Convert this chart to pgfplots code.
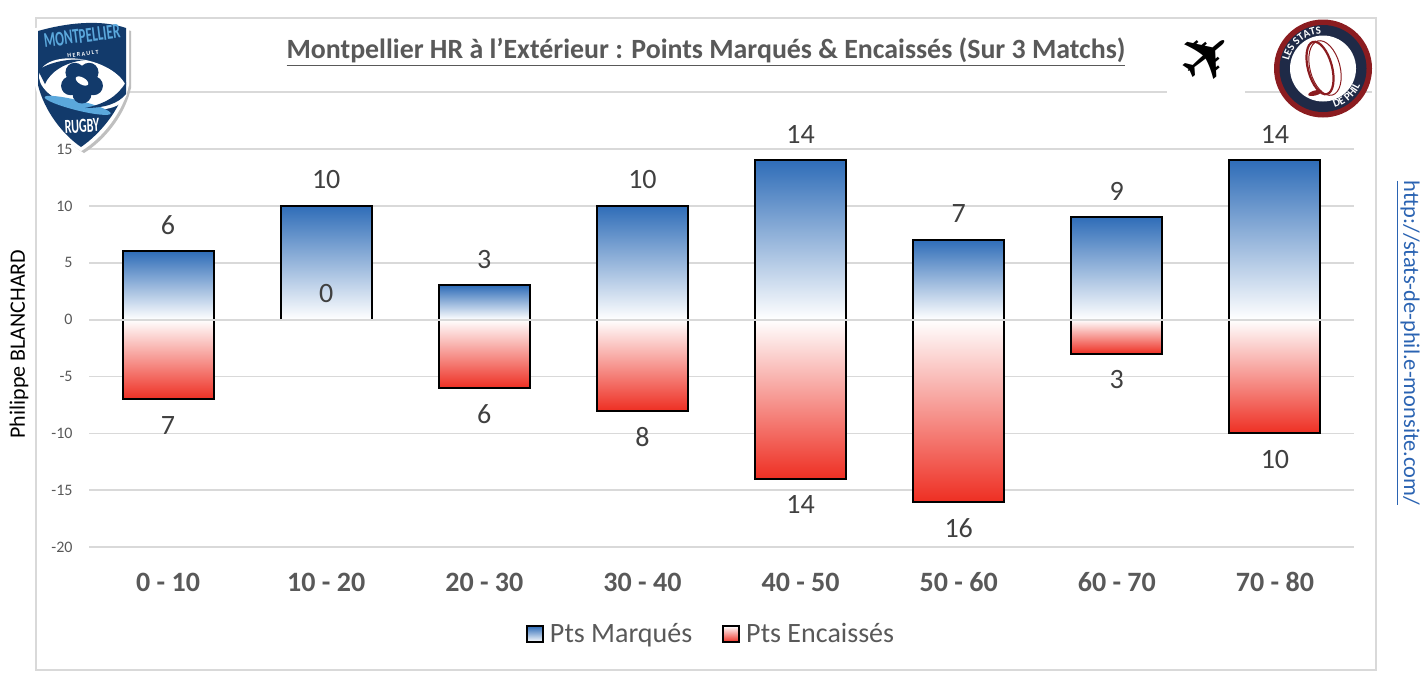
\documentclass[border=0pt]{standalone}
\usepackage{pgfplots}
\pgfplotsset{compat=1.18}
\usepackage{fontspec}
\setmainfont{Carlito}
\newfontfamily\dejavu{DejaVu Sans}
\usetikzlibrary{decorations.text}
\definecolor{gridc}{HTML}{D9D9D9}
\definecolor{txt}{HTML}{595959}
\definecolor{lab}{HTML}{404040}
\definecolor{barblue}{HTML}{2F6DB8}
\definecolor{barred}{HTML}{EE2F23}
\definecolor{navy}{HTML}{123A6B}
\definecolor{sky}{HTML}{5BA8DC}
\definecolor{ringred}{HTML}{8B1C20}
\definecolor{ringnavy}{HTML}{1F2A47}
\definecolor{urlc}{HTML}{2A63B2}
\pgfplotsset{
  posbar/.style={ybar,bar width=45.5pt,bar shift=0pt,draw=black,line width=1pt,top color=barblue,bottom color=white,
    nodes near coords,point meta=y,nodes near coords align={anchor=south}},
  negbar/.style={ybar,bar width=45.5pt,bar shift=0pt,draw=black,line width=1pt,top color=white,bottom color=barred,
    nodes near coords,point meta=explicit symbolic,nodes near coords align={anchor=north}},
}
\begin{document}
\begin{tikzpicture}
\begin{scope}[x=0.5pt,y=-0.5pt]
\path[fill=white] (0,0) rectangle (1428,692);
\draw[gridc,line width=0.9pt] (36,18) rectangle (1376,670);
\draw[gridc,line width=0.8pt] (130,92) -- (1167,92);
\draw[gridc,line width=0.8pt] (1245,92) -- (1372,92);
\end{scope}
\begin{axis}[
  at={(44.5pt,-273.5pt)},anchor=south west,
  scale only axis,width=632.5pt,height=199pt,
  xmin=-0.5,xmax=7.5,ymin=-20,ymax=15,
  axis x line*=bottom,axis y line*=left,
  x axis line style={draw=none},y axis line style={draw=none},
  major tick length=0pt,
  ytick={-20,-15,...,15},
  xtick={0,...,7},
  xticklabels={0 - 10,10 - 20,20 - 30,30 - 40,40 - 50,50 - 60,60 - 70,70 - 80},
  ymajorgrids,
  grid style={gridc,line width=0.8pt},
  /pgf/number format/assume math mode=true,
  yticklabel style={font=\fontsize{8}{10}\selectfont,text=txt,inner sep=0pt,xshift=-8pt},
  xticklabel style={font=\fontsize{14}{16}\selectfont\bfseries,text=txt,anchor=center,yshift=-17.5pt},
  legend style={at={(0.4925,-0.219)},anchor=center,draw=none,fill=none,
    legend columns=-1,font=\fontsize{14}{16}\selectfont,text=txt,
    /tikz/every even column/.style={column sep=13pt},
    /tikz/every odd column/.style={column sep=1pt},inner sep=0pt},
  legend cell align=left,
  legend image code/.code={\draw[#1,line width=1pt] (0pt,-4pt) rectangle (8pt,4pt);},
  clip=false,
  every node near coord/.append style={font=\fontsize{14}{16}\selectfont,text=lab,inner ysep=8pt,inner xsep=0pt},
]
% Pts Marqués
\addplot[posbar] coordinates {(0,6)};
\addlegendentry{Pts Marqués}
\addplot[posbar,forget plot] coordinates {(1,10)};
\addplot[posbar,forget plot] coordinates {(2,3)};
\addplot[posbar,forget plot] coordinates {(3,10)};
\addplot[posbar,forget plot] coordinates {(4,14)};
\addplot[posbar,forget plot] coordinates {(5,7)};
\addplot[posbar,forget plot] coordinates {(6,9)};
\addplot[posbar,forget plot] coordinates {(7,14)};
% Pts Encaissés (drawn below zero, labelled with the absolute value)
\addplot[negbar] coordinates {(0,-7) [7]};
\addlegendentry{Pts Encaissés}
\addplot[forget plot,draw=none,only marks,mark=none,nodes near coords,point meta=explicit symbolic,nodes near coords align={anchor=south}] coordinates {(1,0) [0]};
\addplot[negbar,forget plot] coordinates {(2,-6) [6]};
\addplot[negbar,forget plot] coordinates {(3,-8) [8]};
\addplot[negbar,forget plot] coordinates {(4,-14) [14]};
\addplot[negbar,forget plot] coordinates {(5,-16) [16]};
\addplot[negbar,forget plot] coordinates {(6,-3) [3]};
\addplot[negbar,forget plot] coordinates {(7,-10) [10]};
\addplot[forget plot,gridc,line width=1pt,no marks] coordinates {(-0.5,0)(7.5,0)};
\end{axis}
\begin{scope}[x=0.5pt,y=-0.5pt]
\node[font=\fontsize{13.93}{17}\selectfont\bfseries,text=txt,inner sep=0pt] at (706,52) {\underline{Montpellier HR à l'Extérieur : Points Marqués \& Encaissés (Sur 3 Matchs)}};
\node[font=\fontsize{11}{13}\selectfont,text=black,rotate=90,inner sep=0pt] at (19,344) {Philippe BLANCHARD};
\node[font=\fontsize{11.2}{14}\selectfont,text=urlc,rotate=-90,inner sep=0pt] at (1408,343) {\underline{http://stats-de-phil.e-monsite.com/}};
% plane
\node[font=\dejavu\fontsize{33}{35}\selectfont,text=black,inner sep=0pt,rotate=40] at (1207,57) {✈};
% club shield
\path[fill=black!25] (40,33) .. controls (70,24) and (105,22) .. (131,31) -- (131,88) .. controls (125,115) and (105,140) .. (84,153) .. controls (62,140) and (44,115) .. (39,88) -- cycle;
\path[fill=white,draw=white,line width=1pt] (36,29) .. controls (66,20) and (100,16) .. (128,26) -- (128,85) .. controls (122,112) and (102,137) .. (81,150) .. controls (60,137) and (42,112) .. (36,85) -- cycle;
\path[fill=navy] (38,31) .. controls (66,23) and (100,19) .. (126,28) -- (126,85) .. controls (120,110) and (100,134) .. (81,147) .. controls (62,134) and (44,110) .. (38,85) -- cycle;
\path[fill=white,rotate around={-14:(83,84)}] (83,84) ellipse (45 and 24);
\path[fill=sky,rotate around={-14:(83,84)}] (83,106) ellipse (34 and 5);
\path[fill=navy] (38,70) .. controls (50,62) and (70,58) .. (85,60) .. controls (65,62) and (50,72) .. (45,84) -- cycle;
\path[fill=navy] (126,82) .. controls (118,96) and (105,104) .. (85,108) .. controls (104,108) and (118,104) .. (126,94) -- cycle;
\foreach \a in {90,162,234,306,18}{\path[fill=navy] (82,82) ++(\a:12) circle (9.5);}
\path[fill=navy] (82,82) circle (12);
\path[fill=white,rotate around={-30:(82,81)}] (82,81) ellipse (7 and 3.5);
\node[font=\fontsize{10.5}{11}\selectfont\bfseries,text=sky,rotate=7,inner sep=0pt] at (82,36) {\scalebox{0.62}[1]{MONTPELLIER}};
\node[font=\fontsize{3}{3.5}\selectfont\bfseries,text=white,rotate=7,inner sep=0pt] at (83,54) {H\ E\ R\ A\ U\ L\ T};
\node[font=\fontsize{10}{11}\selectfont\bfseries,text=white,rotate=3,inner sep=0pt] at (82,126) {\scalebox{0.6}[1]{RUGBY}};
% stats logo
\path[fill=ringred] (1323,68.5) circle (49);
\path[fill=ringnavy] (1323,68.5) circle (43.5);
\path[fill=white] (1323,68.5) circle (33);
\draw[ringred,line width=0.5pt,rotate around={15:(1325,68)}] (1325,68) ellipse (15 and 28);
\draw[ringred,line width=1.1pt,rotate around={15:(1320,68)}] (1320,68) ellipse (12 and 27);
\path[fill=ringred,rotate around={15:(1315,93)}] (1315,93) ellipse (7 and 2.5);
\path[postaction={decorate,decoration={text along path,text align=center,text={|\fontsize{5.5}{6}\selectfont\bfseries\color{white}|LES STATS}}}] (1323,68.5) ++(188:35) arc[start angle=188,end angle=272,radius=35];
\path[postaction={decorate,decoration={text along path,text align=center,text={|\fontsize{5.5}{6}\selectfont\bfseries\color{white}|DE PHIL}}}] (1323,68.5) ++(78:41) arc[start angle=78,end angle=20,radius=41];
\end{scope}
\end{tikzpicture}
\end{document}
